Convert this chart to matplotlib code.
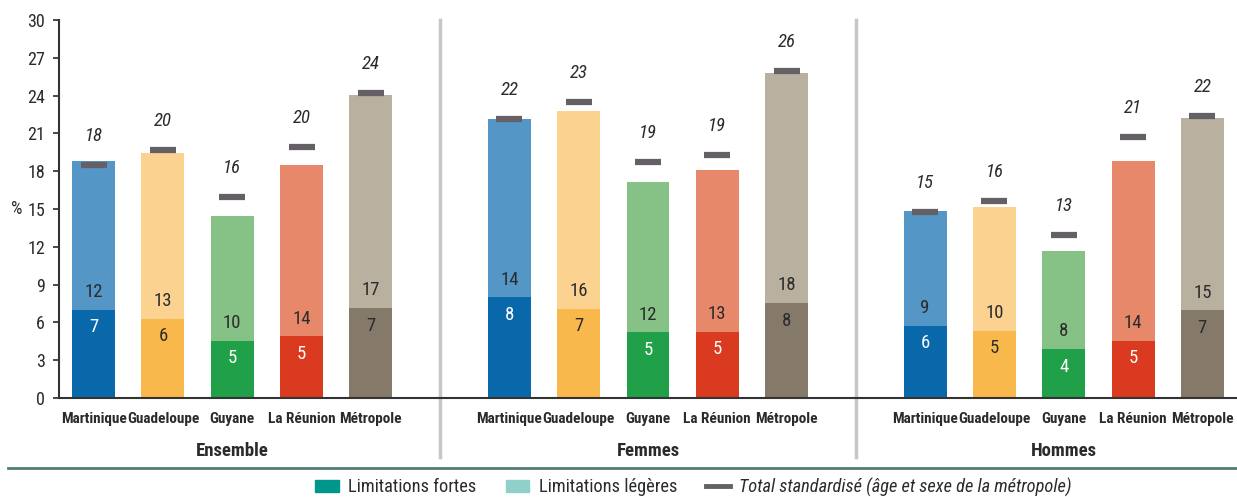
import matplotlib
matplotlib.use("Agg")
import matplotlib.pyplot as plt
from matplotlib import font_manager as fm
from matplotlib.patches import Patch
from matplotlib.lines import Line2D
import numpy as np

# data (%)
groups = ["Ensemble", "Femmes", "Hommes"]
territories = ["Martinique", "Guadeloupe", "Guyane", "La Réunion", "Métropole"]

# bar heights: dark part (limitations fortes) and full bar (fortes + légères)
fortes = [
    [7.0, 6.3, 4.55, 4.9, 7.15],
    [8.0, 7.1, 5.2, 5.25, 7.55],
    [5.75, 5.35, 3.9, 4.55, 6.95],
]
total_bar = [
    [18.8, 19.45, 14.45, 18.5, 24.05],
    [22.15, 22.8, 17.15, 18.1, 25.8],
    [14.85, 15.15, 11.7, 18.8, 22.25],
]
# standardised total (markers)
standard = [
    [18.5, 19.65, 15.95, 19.95, 24.2],
    [22.15, 23.5, 18.75, 19.25, 25.95],
    [14.75, 15.65, 12.95, 20.7, 22.35],
]
# printed labels
lab_fortes = [[7, 6, 5, 5, 7], [8, 7, 5, 5, 8], [6, 5, 4, 5, 7]]
lab_legeres = [[12, 13, 10, 14, 17], [14, 16, 12, 13, 18], [9, 10, 8, 14, 15]]
lab_standard = [[18, 20, 16, 20, 24], [22, 23, 19, 19, 26], [15, 16, 13, 21, 22]]

dark_colors = ["#0868a9", "#f9b84b", "#20a048", "#d93a20", "#857969"]
light_colors = ["#5497c7", "#fcd291", "#86c286", "#e8886a", "#bab09f"]
dark_text = ["white", "#2b2b2b", "white", "white", "#2b2b2b"]

# look for a narrow font, the original uses a condensed face
names = {f.name for f in fm.fontManager.ttflist}
cond = None
stretch = "normal"
for pref in ["Liberation Sans Narrow", "Roboto Condensed", "Open Sans Condensed",
             "Noto Sans Condensed", "DejaVu Sans Condensed", "Arial Narrow"]:
    if pref in names:
        cond = pref
        break
if cond is None:
    for f in fm.fontManager.ttflist:
        if "condensed" in str(f.stretch) and "CJK" not in f.name:
            cond = f.name
            stretch = "condensed"
            break
narrow = cond is not None
if cond is None:
    cond = "DejaVu Sans"

plt.rcParams["font.family"] = [cond, "DejaVu Sans"]
plt.rcParams["font.stretch"] = stretch
k = 1.0 if narrow else 0.85   # shrink a bit when only the wide face is there
txt = "#2b2b2b"

fig = plt.figure(figsize=(12.37, 4.97), dpi=100)
ax = fig.add_axes([59 / 1237, 1 - 398 / 497, 1 - 59 / 1237, (398 - 20) / 497])

width = 0.62
for g in range(3):
    x = np.arange(5) + g * 6
    f = np.array(fortes[g])
    t = np.array(total_bar[g])
    ax.bar(x, f, width, color=dark_colors, zorder=2)
    ax.bar(x, t - f, width, bottom=f, color=light_colors, zorder=2)
    ax.plot(x, standard[g], ls="none", marker="_", ms=19, mew=4.5,
            color="#646065", zorder=3)
    for i in range(5):
        ax.text(x[i], f[i] - 1.4, str(lab_fortes[g][i]), ha="center", va="center",
                fontsize=13.5 * k, color=dark_text[i])
        ax.text(x[i], f[i] + 1.4, str(lab_legeres[g][i]), ha="center", va="center",
                fontsize=13.5 * k, color=txt)
        ax.text(x[i], standard[g][i] + 2.3, str(lab_standard[g][i]), ha="center",
                va="center", fontsize=13.5 * k, color=txt, style="italic")
        ax.text(x[i], -1.7, territories[i], ha="center", va="center",
                fontsize=11 * k, fontweight="bold", color=txt)
    ax.text(g * 6 + 2, -4.2, groups[g], ha="center", va="center",
            fontsize=13.5 * k, fontweight="bold", color=txt)

# separators between groups
for xs in [5, 11]:
    ax.axvline(xs, ymin=-0.156, ymax=1, color="#c6c6c6", lw=2.5, clip_on=False, zorder=1)

ax.set_xlim(-0.5, 16.5)
ax.set_ylim(0, 30)
ax.set_yticks(np.arange(0, 31, 3))
ax.set_xticks([])
ax.tick_params(axis="y", labelsize=13 * k, colors=txt, length=4, width=1.2, pad=6)
for s in ["top", "right"]:
    ax.spines[s].set_visible(False)
ax.spines["left"].set_color("#333333")
ax.spines["left"].set_linewidth(1.5)
ax.spines["bottom"].set_color("#333333")
ax.spines["bottom"].set_linewidth(1.5)
fig.text(17 / 1237, 1 - 209 / 497, "%", ha="center", va="center", fontsize=13 * k, color=txt)

# rule above legend
fig.add_artist(Line2D([8 / 1237, 1], [1 - 468 / 497] * 2, color="#4f7d74", lw=2))

handles = [
    Patch(color="#00968a"),
    Patch(color="#8fd0cb"),
    Line2D([], [], color="#646065", lw=3.5),
]
labels = ["Limitations fortes", "Limitations légères", "Total standardisé (âge et sexe de la métropole)"]
leg = fig.legend(handles, labels, loc="center", bbox_to_anchor=(0.5606, 0.02), ncol=3,
                 frameon=False, fontsize=13.2 * k, handlelength=1.3, handleheight=0.7,
                 columnspacing=1.6, handletextpad=0.5, borderpad=0)
for t in leg.get_texts():
    t.set_color(txt)
leg.get_texts()[2].set_style("italic")

fig.savefig("out.png", dpi=100)
